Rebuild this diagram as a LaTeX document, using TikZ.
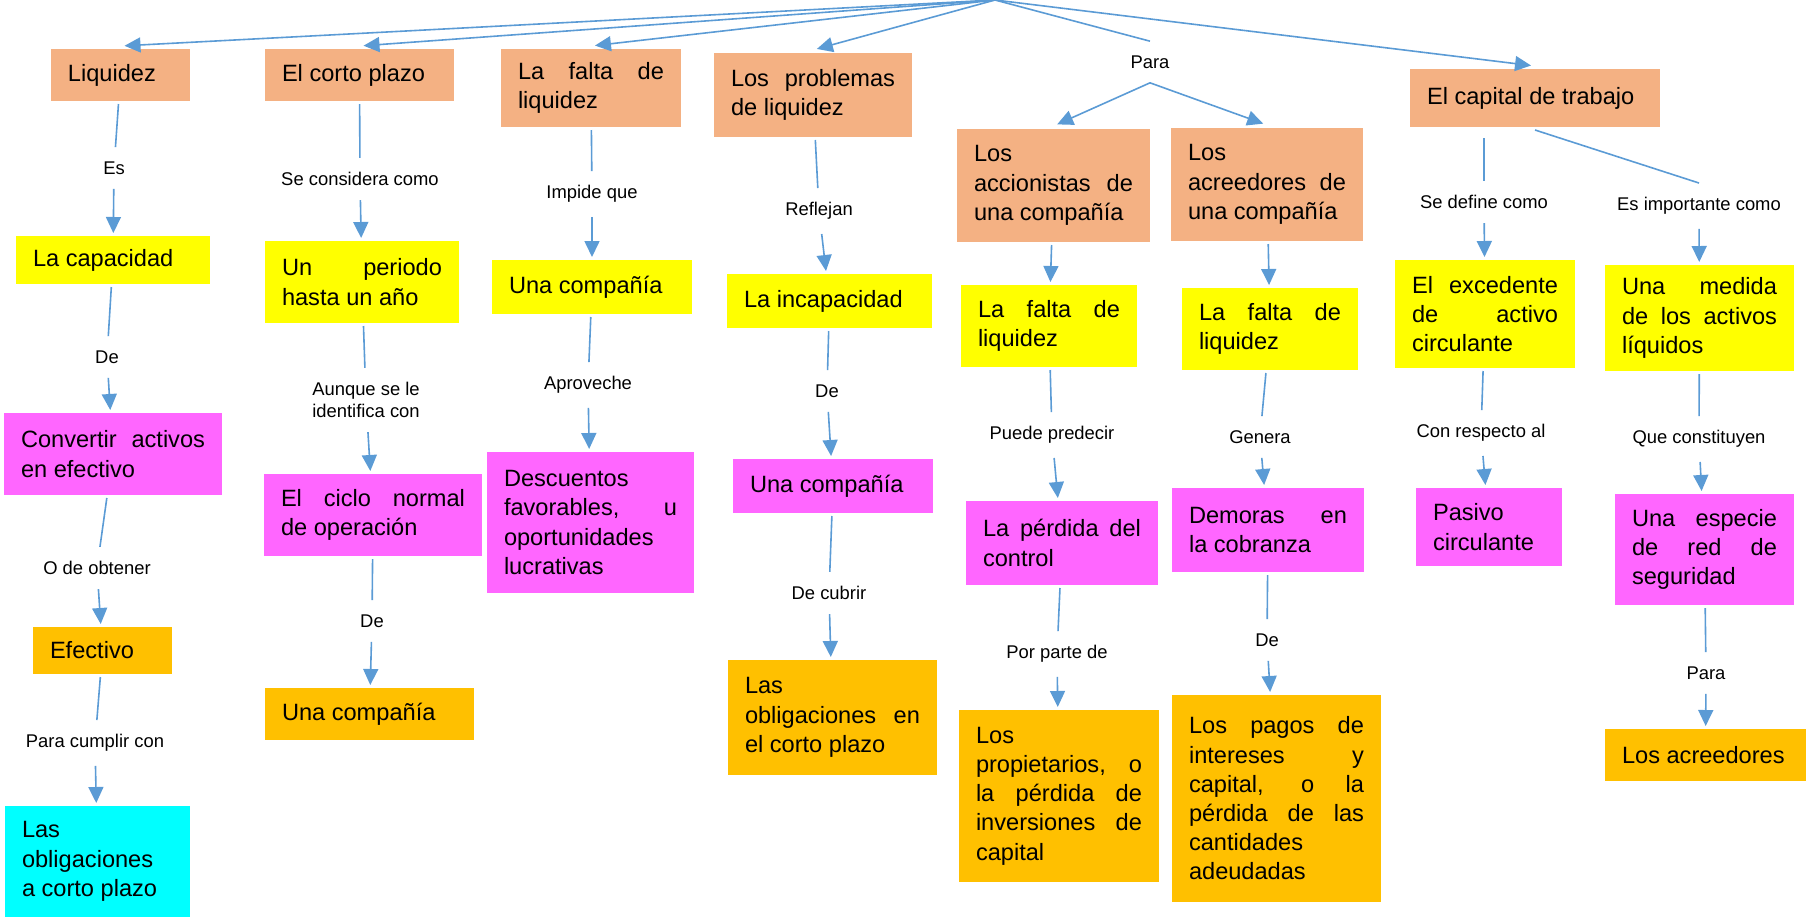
\documentclass[tikz,border=0pt]{standalone}
\usepackage{fontspec}
\setmainfont{Liberation Sans}
\usetikzlibrary{arrows.meta}

\definecolor{peach}{HTML}{F4B183}
\definecolor{lemon}{HTML}{FFFF00}
\definecolor{rosa}{HTML}{FF66FF}
\definecolor{amber}{HTML}{FFC000}
\definecolor{aqua}{HTML}{00FFFF}
\definecolor{wireblue}{HTML}{5B9BD5}

\tolerance = 10000
\hyphenpenalty = 10000

\begin{document}
\begin{tikzpicture}[x = 0.5pt, y = -0.5pt, > = {Triangle[width = 7.5pt, length = 8pt]},
	cell/.style 2 args = {rectangle, inner xsep = 8.5pt, inner ysep = 0pt, outer sep = 1.5pt,
		text width = #1, minimum height = #2, align = justify,
		font = \fontsize{11.8}{14.6}\selectfont},
	peachfill/.style = {fill = peach},
	lemonfill/.style = {fill = lemon},
	rosafill/.style = {fill = rosa},
	amberfill/.style = {fill = amber},
	aquafill/.style = {fill = aqua},
	word/.style = {inner sep = 7pt, align = center, font = \fontsize{9.2}{11}\selectfont},
	wire/.style = {draw = wireblue, line width = 0.8pt}]

	\useasboundingbox (0, 0) rectangle (1806, 917);

	% Top row
	
	\coordinate (top) at (995, 0);
	
	\node [cell = {52.5pt}{26pt}, peachfill] (liq) at (120.5, 75) {Liquidez};
	\node [cell = {77.5pt}{26pt}, peachfill] (corto) at (359.5, 75) {El corto plazo};
	\node [cell = {73pt}{39pt}, peachfill] (falta) at (591, 88) {La falta de\linebreak liquidez};
	\node [cell = {82pt}{42pt}, peachfill] (probl) at (813, 95) {Los problemas\linebreak de liquidez};
	\node [word] (lPara) at (1150, 62) {Para};
	\node [cell = {79.5pt}{56.5pt}, peachfill] (accion) at (1053.5, 185.5) {Los\linebreak accionistas de\linebreak una compañía};
	\node [cell = {79pt}{56.5pt}, peachfill] (acreed) at (1267, 184.5) {Los\linebreak acreedores de\linebreak una compañía};
	\node [cell = {108pt}{29pt}, peachfill] (capital) at (1535, 98) {El capital de trabajo};
	
	\draw [wire, ->, shorten > = 2pt] (top) -- (liq.north);
	\draw [wire, ->, shorten > = 2pt] (top) -- (corto.north);
	\draw [wire, ->, shorten > = 2pt] (top) -- (falta.north);
	\draw [wire, ->, shorten > = 2pt] (top) -- (probl.north);
	\draw [wire] (top) -- (lPara.north);
	\draw [wire, ->, shorten > = 2pt] (top) -- (capital.north);
	\draw [wire, ->, shorten > = 2pt] (lPara.south) -- (accion.north);
	\draw [wire, ->, shorten > = 2pt] (lPara.south) -- (acreed.north);
	
	% Liquidez
	
	\node [word] (lEs) at (114, 168) {Es};
	\node [cell = {80pt}{24pt}, lemonfill] (capac) at (113, 260) {La capacidad};
	\node [word] (lDe1) at (107, 357) {De};
	\node [cell = {92pt}{41pt}, rosafill] (convert) at (113, 454) {Convertir activos\linebreak en efectivo};
	\node [word] (lObt) at (97, 568) {O de obtener};
	\node [cell = {52.5pt}{23.5pt}, amberfill] (efect) at (102.5, 650.5) {Efectivo};
	\node [word] (lCumplir) at (95, 743) {Para cumplir con};
	\node [cell = {75.5pt}{55.5pt}, aquafill] (obligCP) at (97.5, 861.5) {Las\linebreak obligaciones\linebreak a corto plazo};
	
	\draw [wire] (liq) -- (lEs);
	\draw [wire, ->] (lEs) -- (capac);
	\draw [wire] (capac) -- (lDe1);
	\draw [wire, ->] (lDe1) -- (convert);
	\draw [wire] (convert) -- (lObt);
	\draw [wire, ->] (lObt) -- (efect);
	\draw [wire] (efect) -- (lCumplir);
	\draw [wire, ->] (lCumplir) -- (obligCP);
	
	% El corto plazo
	
	\node [word] (lConsidera) at (360, 179) {Se considera como};
	\node [cell = {80pt}{41pt}, lemonfill] (periodo) at (362, 282) {Un periodo\linebreak hasta un año};
	\node [word] (lAunque) at (366, 400) {Aunque se le\\identifica con};
	\node [cell = {92pt}{41pt}, rosafill] (ciclo) at (373, 515) {El ciclo normal\linebreak de operación};
	\node [word] (lDe2) at (372, 621) {De};
	\node [cell = {87.5pt}{26pt}, amberfill] (compC) at (369.5, 714) {Una compañía};
	
	\draw [wire] (corto) -- (lConsidera);
	\draw [wire, ->] (lConsidera) -- (periodo);
	\draw [wire] (periodo) -- (lAunque);
	\draw [wire, ->] (lAunque) -- (ciclo);
	\draw [wire] (ciclo) -- (lDe2);
	\draw [wire, ->] (lDe2) -- (compC);
	
	% La falta de liquidez
	
	\node [word] (lImpide) at (592, 194) {Impide que};
	\node [cell = {83pt}{27pt}, lemonfill] (compA) at (592, 287) {Una compañía};
	\node [word] (lAprov) at (588, 385) {Aproveche};
	\node [cell = {86.5pt}{70.5pt}, rosafill] (descu) at (590.5, 522.5) {Descuentos\linebreak favorables, u\linebreak oportunidades\linebreak lucrativas};
	
	\draw [wire] (falta) -- (lImpide);
	\draw [wire, ->] (lImpide) -- (compA);
	\draw [wire] (compA) -- (lAprov);
	\draw [wire, ->] (lAprov) -- (descu);
	
	% Los problemas de liquidez
	
	\node [word] (lRefl) at (819, 211) {Reflejan};
	\node [cell = {85.5pt}{27pt}, lemonfill] (incap) at (829.5, 301) {La incapacidad};
	\node [word] (lDe3) at (827, 391) {De};
	\node [cell = {83pt}{27pt}, rosafill] (compB) at (833, 486) {Una compañía};
	\node [word] (lCubrir) at (829, 593) {De cubrir};
	\node [cell = {87.5pt}{57.5pt}, amberfill] (oblig) at (832.5, 717.5) {Las\linebreak obligaciones en\linebreak el corto plazo};
	
	\draw [wire] (probl) -- (lRefl);
	\draw [wire, ->] (lRefl) -- (incap);
	\draw [wire] (incap) -- (lDe3);
	\draw [wire, ->] (lDe3) -- (compB);
	\draw [wire] (compB) -- (lCubrir);
	\draw [wire, ->] (lCubrir) -- (oblig);
	
	% Los accionistas
	
	\node [cell = {71pt}{41pt}, lemonfill] (faltaA) at (1049, 326) {La falta de\linebreak liquidez};
	\node [word] (lPredecir) at (1052, 435) {Puede predecir};
	\node [cell = {79pt}{42pt}, rosafill] (perdida) at (1062, 543) {La pérdida del\linebreak control};
	\node [word] (lParte) at (1057, 654) {Por parte de};
	\node [cell = {83pt}{86pt}, amberfill] (propiet) at (1059, 796) {Los\linebreak propietarios, o\linebreak la pérdida de\linebreak inversiones de\linebreak capital};
	
	\draw [wire, ->] (accion) -- (faltaA);
	\draw [wire] (faltaA) -- (lPredecir);
	\draw [wire, ->] (lPredecir) -- (perdida);
	\draw [wire] (perdida) -- (lParte);
	\draw [wire, ->] (lParte) -- (propiet);
	
	% Los acreedores
	
	\node [cell = {71pt}{41pt}, lemonfill] (faltaB) at (1270, 329) {La falta de\linebreak liquidez};
	\node [word] (lGenera) at (1260, 437) {Genera};
	\node [cell = {79pt}{42pt}, rosafill] (demoras) at (1268, 530) {Demoras en\linebreak la cobranza};
	\node [word] (lDe4) at (1267, 640) {De};
	\node [cell = {87.5pt}{103.5pt}, amberfill] (pagos) at (1276.5, 798.5) {Los pagos de\linebreak intereses y\linebreak capital, o la\linebreak pérdida de las\linebreak cantidades\linebreak adeudadas};
	
	\draw [wire, ->] (acreed) -- (faltaB);
	\draw [wire] (faltaB) -- (lGenera);
	\draw [wire, ->] (lGenera) -- (demoras);
	\draw [wire] (demoras) -- (lDe4);
	\draw [wire, ->] (lDe4) -- (pagos);
	
	% El capital de trabajo
	
	\node [word] (lDefine) at (1484, 202) {Se define como};
	\node [cell = {73pt}{54pt}, lemonfill] (exced) at (1485, 314) {El excedente\linebreak de activo\linebreak circulante};
	\node [word] (lRespecto) at (1481, 433) {Con respecto al};
	\node [cell = {56pt}{39pt}, rosafill] (pasivo) at (1489, 527) {Pasivo\linebreak circulante};
	
	\node [word] (lImport) at (1699, 206) {Es importante como};
	\node [cell = {77.5pt}{53pt}, lemonfill] (medida) at (1699.5, 318) {Una medida\linebreak de los activos\linebreak líquidos};
	\node [word] (lConst) at (1699, 439) {Que constituyen};
	\node [cell = {72.5pt}{55.5pt}, rosafill] (especie) at (1704.5, 549.5) {Una especie\linebreak de red de\linebreak seguridad};
	\node [word] (lPara2) at (1706, 673) {Para};
	\node [cell = {83.5pt}{26pt}, amberfill] (acreedores) at (1705.5, 755) {Los acreedores};
	
	\draw [wire, shorten < = 4pt] (capital.south -| lDefine) -- (lDefine);
	\draw [wire, ->] (lDefine) -- (exced);
	\draw [wire] (exced) -- (lRespecto);
	\draw [wire, ->] (lRespecto) -- (pasivo);
	
	\draw [wire] (capital.south) -- (lImport.north);
	\draw [wire, ->] (lImport) -- (medida);
	\draw [wire] (medida) -- (lConst);
	\draw [wire, ->] (lConst) -- (especie);
	\draw [wire] (especie) -- (lPara2);
	\draw [wire, ->] (lPara2) -- (acreedores);

\end{tikzpicture}
\end{document}
